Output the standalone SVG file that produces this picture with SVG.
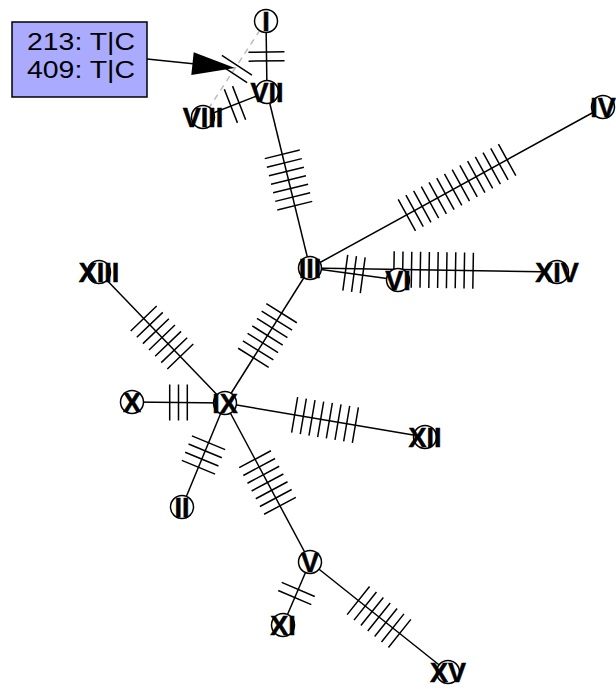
<svg xmlns="http://www.w3.org/2000/svg" xmlns:xlink="http://www.w3.org/1999/xlink" width="616" height="689" viewBox="0 0 616 689">
<style>
.e{stroke:#000;stroke-width:1.5;fill:none}
.d{stroke:#bbb;stroke-width:1.5;fill:none;stroke-dasharray:6,5}
.mk{stroke:#000;stroke-width:1.5;fill:none}
.n circle{fill:#fff;stroke:#000;stroke-width:1.5}
.n text{font-family:"Liberation Sans",Arial,sans-serif;font-weight:bold;font-size:27px;text-anchor:middle;fill:#000;stroke:#000;stroke-width:0.5}
.lb{font-family:"Liberation Sans",Arial,sans-serif;font-size:23px;fill:#000}
</style>
<defs>
<path id="m2" class="mk" d="M-4.4-18V18M4.4-18V18"/>
<path id="m3" class="mk" d="M-8.8-18V18M0-18V18M8.8-18V18"/>
<path id="m4" class="mk" d="M-13.2-18V18M-4.4-18V18M4.4-18V18M13.2-18V18"/>
<path id="m7" class="mk" d="M-26.4-18V18M-17.6-18V18M-8.8-18V18M0-18V18M8.8-18V18M17.6-18V18M26.4-18V18"/>
<path id="m8" class="mk" d="M-30.8-18V18M-22-18V18M-13.2-18V18M-4.4-18V18M4.4-18V18M13.2-18V18M22-18V18M30.8-18V18"/>
<path id="m10" class="mk" d="M-39.6-18V18M-30.8-18V18M-22-18V18M-13.2-18V18M-4.4-18V18M4.4-18V18M13.2-18V18M22-18V18M30.8-18V18M39.6-18V18"/>
<path id="m14" class="mk" d="M-57.2-18V18M-48.4-18V18M-39.6-18V18M-30.8-18V18M-22-18V18M-13.2-18V18M-4.4-18V18M4.4-18V18M13.2-18V18M22-18V18M30.8-18V18M39.6-18V18M48.4-18V18M57.2-18V18"/>
</defs>
<g id="connectors">
<line class="d" x1="266" y1="21" x2="203" y2="117"/>
<use xlink:href="#m2" href="#m2" transform="translate(234.5,69) rotate(123.27)"/>
<line class="e" x1="266" y1="21" x2="267" y2="92"/>
<use xlink:href="#m2" href="#m2" transform="translate(266.5,56.5) rotate(89.19)"/>
<line class="e" x1="267" y1="92" x2="203" y2="117"/>
<use xlink:href="#m2" href="#m2" transform="translate(235,104.5) rotate(158.66)"/>
<line class="e" x1="267" y1="92" x2="310" y2="268"/>
<use xlink:href="#m7" href="#m7" transform="translate(288.5,180) rotate(76.27)"/>
<line class="e" x1="310" y1="268" x2="603" y2="107"/>
<use xlink:href="#m14" href="#m14" transform="translate(457,187.5) rotate(-28.79)"/>
<line class="e" x1="310" y1="268" x2="398" y2="280"/>
<use xlink:href="#m3" href="#m3" transform="translate(354,274) rotate(7.77)"/>
<line class="e" x1="310" y1="268" x2="557" y2="272"/>
<use xlink:href="#m10" href="#m10" transform="translate(433.5,270) rotate(0.93)"/>
<line class="e" x1="310" y1="268" x2="225" y2="403"/>
<use xlink:href="#m7" href="#m7" transform="translate(267.5,335.5) rotate(122.2)"/>
<line class="e" x1="225" y1="403" x2="99" y2="272"/>
<use xlink:href="#m7" href="#m7" transform="translate(162,337.5) rotate(-133.89)"/>
<line class="e" x1="225" y1="403" x2="132" y2="402"/>
<use xlink:href="#m3" href="#m3" transform="translate(178.5,402.5) rotate(180)"/>
<line class="e" x1="225" y1="403" x2="425" y2="437"/>
<use xlink:href="#m8" href="#m8" transform="translate(325,420) rotate(9.65)"/>
<line class="e" x1="225" y1="403" x2="182" y2="507"/>
<use xlink:href="#m4" href="#m4" transform="translate(203.5,455) rotate(112.46)"/>
<line class="e" x1="225" y1="403" x2="310" y2="562"/>
<use xlink:href="#m7" href="#m7" transform="translate(267.5,482.5) rotate(61.87)"/>
<line class="e" x1="310" y1="562" x2="283" y2="625"/>
<use xlink:href="#m2" href="#m2" transform="translate(296.5,593.5) rotate(113.2)"/>
<line class="e" x1="310" y1="562" x2="448" y2="672"/>
<use xlink:href="#m7" href="#m7" transform="translate(379,617) rotate(38.56)"/>
</g>
<g id="n-I" class="n"><circle cx="266" cy="21" r="11.5"/><text x="266" y="30.7">I</text></g>
<g id="n-VII" class="n"><circle cx="267" cy="92" r="11.5"/><text x="267" y="101.7">VII</text></g>
<g id="n-VIII" class="n"><circle cx="203" cy="117" r="11.5"/><text x="203" y="126.7">VIII</text></g>
<g id="n-III" class="n"><circle cx="310" cy="268" r="11.5"/><text x="310" y="277.7">III</text></g>
<g id="n-IV" class="n"><circle cx="603" cy="107" r="11.5"/><text x="603" y="116.7">IV</text></g>
<g id="n-VI" class="n"><circle cx="398" cy="280" r="11.5"/><text x="398" y="289.7">VI</text></g>
<g id="n-XIV" class="n"><circle cx="557" cy="272" r="11.5"/><text x="557" y="281.7">XIV</text></g>
<g id="n-XIII" class="n"><circle cx="99" cy="272" r="11.5"/><text x="99" y="281.7">XIII</text></g>
<g id="n-X" class="n"><circle cx="132" cy="402" r="11.5"/><text x="132" y="411.7">X</text></g>
<g id="n-IX" class="n"><circle cx="225" cy="403" r="11.5"/><text x="225" y="412.7">IX</text></g>
<g id="n-XII" class="n"><circle cx="425" cy="437" r="11.5"/><text x="425" y="446.7">XII</text></g>
<g id="n-II" class="n"><circle cx="182" cy="507" r="11.5"/><text x="182" y="516.7">II</text></g>
<g id="n-V" class="n"><circle cx="310" cy="562" r="11.5"/><text x="310" y="571.7">V</text></g>
<g id="n-XI" class="n"><circle cx="283" cy="625" r="11.5"/><text x="283" y="634.7">XI</text></g>
<g id="n-XV" class="n"><circle cx="448" cy="672" r="11.5"/><text x="448" y="681.7">XV</text></g>
<g id="annotation">
<line class="e" x1="147" y1="59" x2="193" y2="63.7"/>
<polygon points="193.7,52.2 191.3,75 235,68" fill="#000"/>
<rect x="12" y="22" width="135" height="75" fill="#aaaaff" stroke="#000" stroke-width="1.5"/>
<text class="lb" x="27" y="50" textLength="108" lengthAdjust="spacingAndGlyphs">213: T|C</text>
<text class="lb" x="27" y="78" textLength="108" lengthAdjust="spacingAndGlyphs">409: T|C</text>
</g>
</svg>
